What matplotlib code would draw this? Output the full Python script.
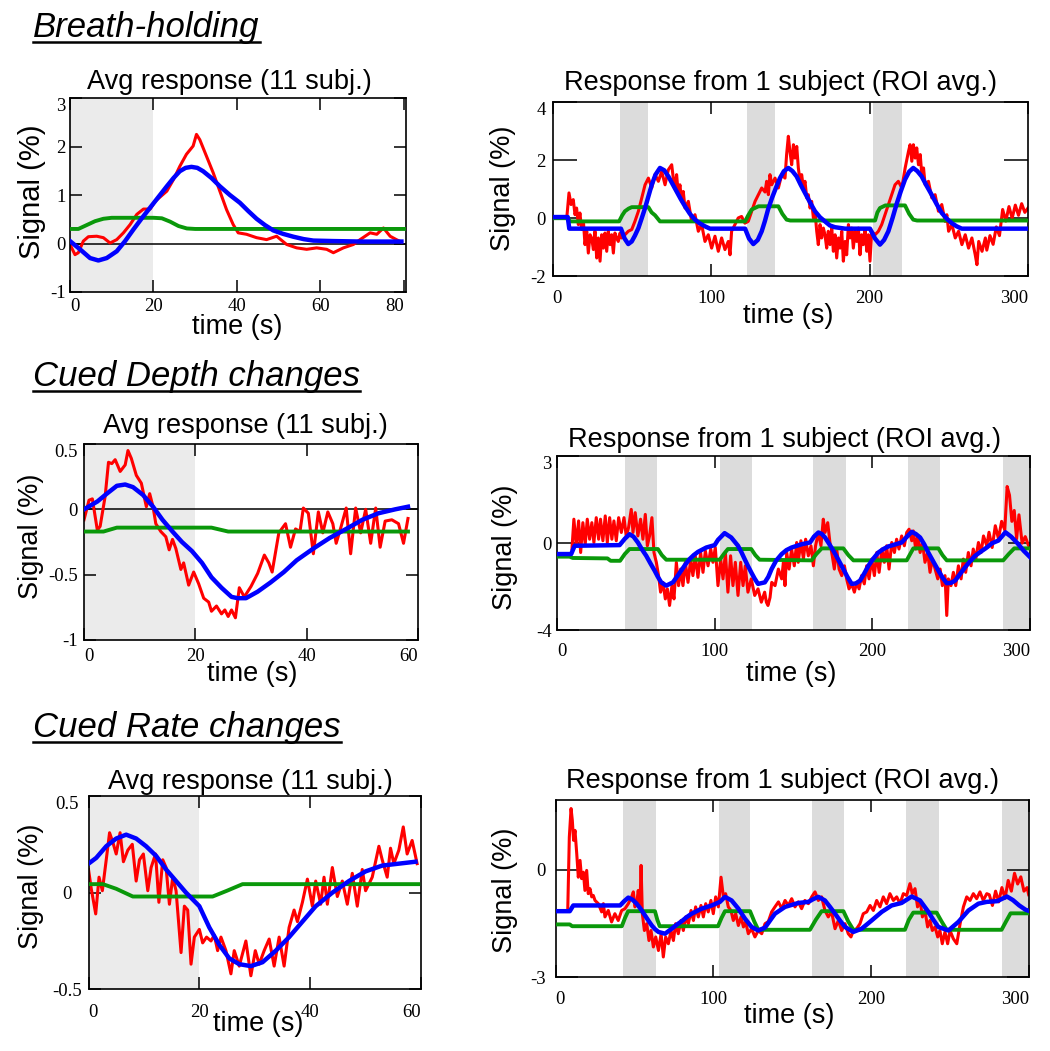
import matplotlib
matplotlib.use('Agg')
import matplotlib.pyplot as plt
from matplotlib.lines import Line2D

W, H = 1050, 1051
SANS = 'Liberation Sans'
SERIF = 'Liberation Serif'
RED, BLUE, GREEN = '#ff0000', '#0000ff', '#0a980a'
SHADE_AVG, SHADE_SUBJ = '#ebebeb', '#dcdcdc'

# ---------------- text ----------------
headings = ['Breath-holding', 'Cued Depth changes', 'Cued Rate changes']
avg_title = 'Avg response (11 subj.)'
subj_title = 'Response from 1 subject (ROI avg.)'
ylabel_text = 'Signal (%)'
xlabel_text = 'time (s)'

# ---------------- Panel 1: breath-holding, average ----------------
p1_ticks_x = [0, 20, 40, 60, 80]
p1_ticks_y = [-1, 0, 1, 2, 3]
p1_shade = [(0, 20)]
p1_red = [(0, -0.02), (1.2, -0.23), (2.0, -0.19), (3.2, 0.05), (4.4, 0.14), (6.4, 0.15), (8.0, 0.12),
          (9.6, 0.01), (11.2, 0.08), (12.8, 0.22), (14.4, 0.39), (16.0, 0.60), (17.6, 0.71), (19.2, 0.71),
          (20.4, 0.87), (21.6, 0.96), (23.2, 1.08), (24.8, 1.32), (26.3, 1.59), (27.9, 1.84), (29.5, 2.01),
          (30.3, 2.25), (31.1, 2.14), (32.7, 1.80), (34.3, 1.46), (35.9, 1.08), (37.5, 0.70), (39.1, 0.39),
          (40.3, 0.22), (42.3, 0.19), (44.7, 0.12), (47.1, 0.08), (49.5, 0.15), (51.9, -0.02), (54.3, -0.09),
          (56.7, -0.12), (59.1, -0.09), (61.5, -0.12), (63.1, -0.19), (65.5, -0.09), (67.9, -0.02),
          (69.5, 0.08), (71.9, 0.22), (73.5, 0.19), (75.1, 0.32), (76.7, 0.15), (78.2, 0.08), (79.4, 0.03)]
p1_blue = [(0, 0.05), (2.4, -0.12), (4.8, -0.30), (6.8, -0.35), (8.8, -0.30), (11.2, -0.16), (13.2, 0.05),
           (15.2, 0.29), (17.2, 0.52), (19.2, 0.74), (21.2, 0.96), (23.2, 1.18), (24.8, 1.35), (26.3, 1.49),
           (27.7, 1.56), (29.1, 1.58), (30.5, 1.56), (31.9, 1.49), (33.9, 1.35), (35.9, 1.18), (38.3, 1.0),
           (40.7, 0.84), (42.7, 0.67), (44.7, 0.51), (46.7, 0.38), (48.7, 0.27), (51.0, 0.20), (53.5, 0.14),
           (56.0, 0.09), (58.3, 0.06), (63.1, 0.05), (70, 0.04), (79.4, 0.04)]
p1_green = [(0, 0.30), (2, 0.30), (4, 0.38), (6, 0.46), (8, 0.51), (10, 0.53), (20, 0.53), (22, 0.52),
            (24, 0.45), (26, 0.36), (28, 0.31), (30, 0.30), (80, 0.30)]

# ---------------- Panel 2: breath-holding, one subject ----------------
p2_ticks_x = [0, 100, 200, 300]
p2_ticks_y = [-2, 0, 2, 4]
p2_shade = [(42.5, 60.5), (122.5, 140.5), (202.5, 220.5)]
p2_red = [(9.0, 0.01), (10.4, 0.87), (11.7, 0.47), (13.1, 0.64), (14.2, 0.12), (15.2, 0.35), (16.3, -0.22),
          (17.3, 0.18), (18.4, -0.39), (19.5, -0.11), (20.5, -0.91), (21.6, -0.45), (22.6, -1.20),
          (23.7, -0.57), (24.7, -0.68), (25.8, -1.08), (26.8, -0.45), (27.9, -1.37), (28.9, -0.68),
          (30.0, -1.48), (31.0, -0.57), (32.1, -1.03), (33.1, -0.51), (34.2, -1.14), (35.2, -0.45),
          (36.3, -0.91), (37.3, -0.57), (38.4, -1.20), (39.4, -0.51), (40.5, -0.68), (41.5, -0.80),
          (42.6, -0.51), (43.6, -0.68), (45.7, -0.57), (47.8, -0.45), (50.0, -0.39), (52.0, -0.11),
          (54.2, 0.24), (56.3, 0.70), (58.4, 1.15), (60.5, 1.38), (62.6, 1.04), (64.7, 1.50), (66.8, 1.27),
          (68.9, 1.61), (71.0, 1.15), (73.1, 1.67), (75.2, 1.84), (76.2, 1.38), (77.3, 1.04), (78.3, 1.50),
          (79.4, 0.81), (80.4, 1.15), (81.5, 0.58), (82.5, 0.92), (83.6, 0.35), (85.7, 0.58), (87.8, -0.11),
          (89.9, 0.12), (92.0, -0.45), (94.1, -0.22), (96.2, -0.80), (98.3, -0.57), (100.4, -1.03),
          (102.5, -0.62), (104.6, -1.14), (106.7, -0.68), (108.8, -1.08), (110.9, -0.80), (112.0, -1.26),
          (113.0, -0.45), (115.1, -0.22), (117.2, 0.01), (119.3, 0.06), (121.4, -0.17), (123.5, -0.11),
          (125.7, 0.24), (127.8, 0.58), (129.9, 0.81), (132.0, 1.04), (134.1, 0.90), (135.1, 1.27),
          (136.2, 0.81), (137.2, 1.50), (138.3, 1.15), (140.4, 1.38), (142.5, 1.04), (144.6, 1.50),
          (146.7, 1.38), (147.7, 2.19), (148.8, 2.82), (149.8, 2.30), (150.9, 1.84), (152.0, 2.53),
          (153.0, 2.07), (154.1, 2.47), (155.1, 1.73), (156.2, 1.27), (157.2, 1.50), (158.3, 1.04),
          (159.3, 1.27), (160.4, 0.70), (161.4, 0.81), (162.5, 0.35), (163.5, 0.58), (164.6, 0.01),
          (165.6, 0.24), (166.7, -0.45), (167.7, -0.91), (168.8, -0.22), (169.8, -0.68), (170.9, -0.34),
          (171.9, -0.57), (173.0, -1.03), (174.0, -0.45), (175.1, -0.91), (176.2, -0.34), (177.2, -1.14),
          (178.3, -0.57), (179.3, -1.37), (180.4, -0.68), (181.4, -1.03), (182.5, -0.45), (183.5, -1.48),
          (184.6, -0.80), (185.6, -1.26), (186.7, -0.22), (187.7, -0.68), (188.8, -0.34), (189.8, -1.03),
          (190.9, -0.45), (191.9, -0.80), (193.0, -0.34), (194.0, -1.26), (195.1, -0.57), (196.1, -0.91),
          (197.2, -0.39), (198.3, -1.14), (199.3, -0.57), (200.3, -1.48), (201.4, -0.45), (203.5, -0.57),
          (205.6, -0.45), (207.7, -0.22), (209.8, 0.12), (211.9, 0.47), (214.0, 0.81), (216.1, 1.15),
          (218.2, 1.27), (220.4, 1.04), (222.5, 1.73), (224.6, 2.30), (225.6, 2.53), (226.7, 1.96),
          (227.7, 2.53), (228.8, 2.07), (229.8, 2.42), (230.9, 1.84), (232.0, 2.19), (233.0, 1.50),
          (234.1, 1.73), (235.1, 1.15), (237.2, 1.27), (239.3, 0.70), (241.4, 0.81), (243.5, 0.24),
          (245.6, 0.47), (247.7, -0.11), (248.8, 0.12), (249.9, -0.45), (252.0, -0.22), (254.1, -0.68),
          (256.2, -0.45), (258.3, -0.91), (260.4, -0.57), (262.5, -1.03), (264.6, -0.68), (266.7, -1.26),
          (267.8, -1.60), (268.9, -0.80), (271.0, -1.14), (273.1, -0.68), (274, -1.1), (276, -0.6),
          (278, -0.9), (280, -0.3), (282, -0.6), (284, 0.3), (286, -0.1), (288, 0.4), (290, 0.0),
          (292, 0.45), (294, 0.1), (296, 0.5), (298, 0.2), (300, 0.35)]
p2_blue = [(0, 0.04), (9.6, 0.04), (10.6, -0.36), (43.2, -0.36), (45.5, -0.70), (47.8, -0.89), (50, -0.80),
           (52, -0.60), (54.2, -0.34), (56.3, 0.0), (58.4, 0.35), (60.5, 0.75), (62.6, 1.15), (65, 1.50),
           (67.8, 1.73), (70.5, 1.65), (73.1, 1.44), (75.7, 1.18), (78.3, 0.92), (80.9, 0.66), (83.6, 0.41),
           (86.7, 0.15), (89.9, -0.05), (93, -0.18), (96.2, -0.28), (99.4, -0.36), (121.5, -0.36),
           (124, -0.70), (126.7, -0.89), (129.5, -0.75), (132, -0.45), (134, -0.10), (136, 0.30),
           (138.5, 0.70), (141, 1.05), (143.5, 1.38), (146, 1.62), (148.8, 1.73), (151.4, 1.62),
           (154, 1.44), (156.6, 1.15), (159.3, 0.87), (162.4, 0.55), (165.6, 0.24), (168.8, 0.03),
           (171.9, -0.11), (175, -0.25), (178.2, -0.31), (184.6, -0.36), (200.3, -0.36), (203.5, -0.70),
           (206.6, -0.91), (209.2, -0.75), (211.9, -0.45), (214.5, 0.0), (217, 0.47), (219.7, 0.92),
           (222.4, 1.33), (225, 1.60), (227.6, 1.73), (230.2, 1.62), (232.9, 1.44), (236, 1.12),
           (239.2, 0.81), (242.4, 0.48), (245.6, 0.18), (248.8, -0.02), (251.9, -0.17), (255, -0.28),
           (258.2, -0.36), (300, -0.36)]
p2_green = [(0, 0.0), (10, 0.0), (11, -0.11), (42, -0.11), (44, 0.10), (45.7, 0.24), (48, 0.33), (50, 0.38),
            (60.5, 0.38), (62.5, 0.20), (64.7, 0.10), (67.8, -0.11), (121.5, -0.11), (123.5, 0.10),
            (125.7, 0.30), (130, 0.41), (142.5, 0.41), (145, 0.15), (147.7, -0.05), (150, -0.08),
            (203.5, -0.08), (205, 0.20), (206.6, 0.35), (210, 0.44), (222.4, 0.44), (225, 0.15),
            (227.6, -0.05), (230, -0.08), (300, -0.08)]

# ---------------- Panel 3: cued depth, average ----------------
p3_ticks_x = [0, 20, 40, 60]
p3_ticks_y = [-1, -0.5, 0, 0.5]
p3_shade = [(0, 20)]
p3_red = [(0, -0.08), (0.9, 0.07), (1.5, 0.08), (2.4, -0.16), (2.9, -0.13), (3.8, 0.10), (4.4, 0.36),
          (5.0, 0.35), (5.6, 0.38), (6.5, 0.29), (7.4, 0.34), (7.9, 0.45), (8.5, 0.39), (9.4, 0.26),
          (10.3, 0.20), (11.2, 0.02), (11.8, 0.12), (12.4, 0.02), (12.9, -0.11), (13.8, -0.17), (14.7, -0.21),
          (15.3, -0.31), (15.9, -0.23), (16.5, -0.30), (17.4, -0.46), (17.9, -0.41), (18.8, -0.58),
          (19.7, -0.48), (20.6, -0.57), (21.5, -0.68), (22.4, -0.71), (22.9, -0.78), (23.8, -0.74),
          (24.7, -0.80), (25.3, -0.77), (25.9, -0.82), (26.5, -0.77), (27.2, -0.83), (27.9, -0.60),
          (28.8, -0.67), (30.0, -0.59), (31.2, -0.49), (32.4, -0.35), (33.2, -0.41), (33.8, -0.48),
          (35.0, -0.18), (36.2, -0.11), (37.1, -0.29), (38.0, -0.15), (38.8, -0.17), (39.4, 0.01),
          (40.3, -0.03), (41.2, -0.34), (42.1, -0.02), (42.9, -0.18), (43.8, -0.02), (44.7, -0.11),
          (45.3, -0.26), (46.2, -0.13), (47.1, 0.01), (47.9, -0.34), (48.8, 0.01), (49.7, -0.18),
          (50.6, 0.0), (51.5, -0.26), (52.4, 0.01), (53.2, -0.29), (54.1, -0.09), (55.3, -0.08),
          (56.5, -0.11), (57.4, -0.26), (58.2, -0.07)]
p3_blue = [(0, 0.0), (2.4, 0.06), (4.1, 0.12), (5.9, 0.18), (7.4, 0.19), (8.8, 0.17), (10.6, 0.11),
           (12.4, 0.02), (14.1, -0.08), (15.9, -0.17), (17.6, -0.25), (19.4, -0.32), (21.2, -0.41),
           (22.9, -0.52), (24.7, -0.60), (26.5, -0.67), (27.6, -0.68), (29.1, -0.68), (31.2, -0.63),
           (33.5, -0.56), (35.9, -0.48), (38.2, -0.39), (41.2, -0.30), (44.1, -0.22), (47.1, -0.15),
           (50.0, -0.08), (52.9, -0.03), (55.9, 0.0), (58.2, 0.02)]
p3_green = [(0, -0.17), (3.5, -0.17), (5.9, -0.14), (22.9, -0.14), (25.9, -0.17), (58.2, -0.17)]

# ---------------- Panel 4: cued depth, one subject ----------------
p4_ticks_x = [0, 100, 200, 300]
p4_ticks_y = [-4, 0, 4]
p4_tick_labels_y = ['-4', '0', '3']
p4_shade = [(43, 63.5), (103.5, 123.5), (162.5, 183), (222.5, 243), (283, 303)]
p4_red = [(9.5, -0.27), (10.7, 1.10), (12.2, -0.12), (13.7, 1.02), (15.0, -0.43), (16.4, 0.94),
          (17.9, -0.05), (19.2, 1.10), (20.7, 0.18), (22.1, 0.94), (23.4, 0.03), (24.9, 1.17), (26.4, 0.18),
          (27.6, 1.10), (29.1, 0.11), (30.6, 1.25), (31.9, 0.03), (33.4, 1.17), (34.8, 0.18), (36.1, 1.02),
          (37.6, 0.11), (39.1, 1.17), (40.8, 0.49), (42.5, 1.17), (43.9, 0.33), (45.4, 0.72), (47.1, 1.55),
          (48.2, 0.49), (49.6, 1.40), (51.3, 0.33), (53.0, 1.10), (54.5, 0.18), (56.0, 1.32), (57.3, -0.12),
          (58.7, 0.33), (60.2, 1.17), (61.5, -0.43), (63.0, -0.88), (64.4, -1.49), (65.7, -2.25),
          (67.2, -1.80), (68.7, -2.56), (70.0, -2.10), (71.4, -2.86), (72.9, -1.95), (74.2, -2.56),
          (75.7, -0.88), (77.1, -1.95), (78.4, -1.19), (79.9, -1.95), (81.4, -0.88), (83.1, -1.80),
          (84.8, -0.73), (86.2, -1.49), (87.7, -0.58), (89.4, -1.57), (91.1, -0.43), (92.6, -1.34),
          (94.1, -0.35), (95.8, -1.04), (97.5, -0.27), (98.9, -0.88), (100.4, -0.20), (102.1, -1.95),
          (103.8, -0.73), (105.3, -1.64), (106.8, -0.43), (108.4, -2.25), (110.1, -0.58), (111.6, -1.95),
          (113.1, -0.88), (114.8, -2.40), (116.5, -0.88), (118.0, -1.95), (119.4, -1.04), (121.1, -2.25),
          (123.2, -1.64), (125.4, -2.40), (127.5, -2.10), (129.6, -2.71), (131.7, -2.25), (132.8, -2.71),
          (133.8, -2.86), (135.1, -2.50), (136.2, -1.80), (138.3, -1.95), (140.4, -1.19), (142.5, -1.64),
          (143.6, -0.88), (144.6, -1.95), (145.7, -0.43), (147.2, -1.19), (148.8, -0.27), (150.5, -1.04),
          (152.0, 0.03), (153.0, -0.88), (154.7, 0.11), (156.3, -0.73), (157.7, 0.18), (159.4, -0.58),
          (161.1, -0.12), (162.6, -1.04), (164.0, -0.12), (165.8, 0.49), (167.4, -0.12), (168.9, 1.10),
          (170.0, 0.49), (171.7, 0.94), (173.1, 0.03), (174.6, -0.58), (175.9, -1.19), (177.4, -0.27),
          (178.9, -1.19), (180.6, -1.49), (182.3, -1.04), (183.7, -1.64), (185.2, -2.10), (186.9, -1.87),
          (188.6, -2.25), (190.1, -1.80), (191.6, -2.10), (193.2, -1.49), (194.9, -1.87), (196.4, -1.04),
          (197.9, -1.64), (199.6, -0.73), (201.3, -1.49), (202.8, -0.43), (204.3, -1.34), (206.0, -0.27),
          (207.6, -0.88), (209.1, -0.12), (210.6, -1.19), (212.3, 0.03), (214.0, -0.43), (215.4, 0.18),
          (216.9, -0.27), (218.6, 0.33), (220.3, -0.12), (221.8, 0.49), (223.3, 0.64), (225.0, 0.11),
          (226.0, 0.56), (227.5, -0.27), (228.8, 0.33), (230.3, -0.43), (231.8, 0.03), (233.4, -0.88),
          (235.1, -0.43), (236.6, -1.34), (238.1, -0.73), (239.8, -1.19), (241.5, -1.64), (243.0, -1.19),
          (244.4, -1.95), (246.1, -1.49), (247.2, -3.32), (248.2, -1.64), (249.9, -1.95), (251.4, -1.34),
          (252.9, -1.95), (254.6, -1.04), (256.3, -1.64), (257.7, -0.73), (259.2, -1.34), (260.9, -0.43),
          (262.6, -1.04), (264.0, -0.27), (265.6, -0.73), (267.3, 0.03), (269.0, -0.43), (270.5, 0.33),
          (272.6, -0.12), (274, 0.5), (276, -0.2), (278, 0.8), (280, 0.2), (282, 1.0), (284, 0.6),
          (285.5, 2.6), (287, 2.2), (288.5, 1.0), (290, 1.5), (291.5, 0.2), (293, 1.3), (295, 0.0),
          (297, 0.3), (299, -0.1), (300, -0.2)]
p4_blue = [(0, -0.50), (9, -0.50), (11.2, -0.12), (39.7, -0.09), (43, 0.20), (46, 0.41), (48.5, 0.30),
           (51.3, 0.03), (54, -0.30), (56.6, -0.58), (59.2, -0.92), (61.9, -1.26), (64, -1.55), (66.1, -1.80),
           (69.3, -1.95), (73.5, -1.80), (76, -1.55), (78.8, -1.26), (81.4, -0.98), (84.1, -0.73),
           (86.7, -0.55), (89.4, -0.40), (94.7, -0.20), (100, -0.09), (102.1, 0.15), (106.3, 0.46),
           (110.5, 0.26), (114.8, -0.12), (117, -0.42), (119, -0.73), (121, -1.03), (123.2, -1.34),
           (125.3, -1.62), (127.5, -1.87), (131.8, -1.80), (134, -1.55), (136.1, -1.19), (139, -0.80),
           (142.5, -0.50), (145.5, -0.32), (148.8, -0.20), (155.2, -0.05), (160.5, 0.03), (163, 0.30),
           (165.8, 0.49), (168, 0.42), (170, 0.26), (172.5, -0.02), (175.3, -0.35), (178.5, -0.77),
           (181.6, -1.19), (184.2, -1.55), (186.9, -1.87), (189.5, -1.85), (192.2, -1.72), (194.8, -1.40),
           (197.5, -1.04), (200.5, -0.72), (203.8, -0.43), (207, -0.27), (210.2, -0.15), (218.6, 0.03),
           (222, 0.30), (225, 0.52), (227.6, 0.42), (230.3, 0.26), (232.9, -0.05), (235.5, -0.43),
           (238.7, -0.85), (241.9, -1.26), (244.5, -1.58), (247.2, -1.84), (250, -1.82), (252.5, -1.72),
           (255.6, -1.42), (258.8, -1.11), (262, -0.83), (265.2, -0.58), (269, -0.38), (272.6, -0.20),
           (276, 0.0), (280, 0.12), (284.4, 0.50), (288, 0.30), (292, 0.0), (296, -0.35), (300, -0.64)]
p4_green = [(0, -0.62), (8, -0.62), (10, -0.68), (32, -0.70), (34, -0.81), (40, -0.81), (43, -0.50),
            (46, -0.27), (64, -0.27), (66.5, -0.55), (69.3, -0.76), (103.2, -0.76), (105.8, -0.50),
            (108.4, -0.27), (123.2, -0.27), (125.8, -0.55), (128.5, -0.76), (161.5, -0.79), (164.5, -0.50),
            (167.9, -0.24), (181.6, -0.24), (184.8, -0.55), (188, -0.79), (221.8, -0.79), (224, -0.50),
            (226, -0.24), (241.9, -0.24), (244.5, -0.55), (247.2, -0.79), (283, -0.79), (286.5, -0.50),
            (290, -0.24), (300, -0.24)]

# ---------------- Panel 5: cued rate, average ----------------
p5_ticks_x = [0, 20, 40, 60]
p5_ticks_y = [-0.5, 0, 0.5]
p5_shade = [(0, 20)]
p5_red = [(0, 0.12), (0.5, 0.02), (1.3, -0.11), (1.9, 0.08), (2.5, 0.01), (3.2, 0.17), (3.8, 0.31),
          (4.4, 0.26), (5.0, 0.20), (5.7, 0.31), (6.3, 0.16), (7.1, 0.22), (7.9, 0.25), (8.6, 0.06),
          (9.2, 0.17), (9.9, 0.20), (10.7, 0.01), (11.3, 0.13), (12.1, 0.20), (12.7, -0.05), (13.4, 0.17),
          (14.0, 0.13), (14.6, -0.06), (15.2, 0.08), (15.8, 0.01), (16.7, -0.31), (17.3, -0.07), (17.9, -0.09),
          (18.5, -0.37), (19.1, -0.23), (20.0, -0.19), (20.6, -0.26), (21.3, -0.23), (22.1, -0.25),
          (22.7, -0.22), (23.3, -0.30), (23.9, -0.23), (24.8, -0.30), (25.7, -0.42), (26.3, -0.30),
          (27.2, -0.38), (28.4, -0.25), (29.3, -0.43), (30.1, -0.30), (30.8, -0.37), (31.7, -0.30),
          (32.6, -0.24), (33.5, -0.38), (34.4, -0.23), (35.3, -0.38), (36.2, -0.18), (37.1, -0.09),
          (37.7, -0.15), (38.6, -0.05), (39.5, 0.07), (40.4, -0.07), (41.0, 0.06), (41.9, -0.06),
          (42.5, 0.08), (43.1, -0.06), (44.0, 0.13), (44.9, -0.02), (45.8, 0.06), (46.7, -0.06),
          (47.6, 0.10), (48.5, -0.07), (49.4, 0.12), (50.0, 0.01), (51.2, 0.08), (52.4, 0.24), (53.0, 0.17),
          (53.9, 0.08), (54.5, 0.23), (55.1, 0.15), (56.0, 0.22), (56.8, 0.34), (57.5, 0.20), (58.4, 0.27),
          (59.3, 0.15)]
p5_blue = [(0, 0.15), (1.4, 0.18), (3.2, 0.24), (5, 0.28), (6.8, 0.30), (8.6, 0.28), (10.4, 0.24),
           (12.2, 0.19), (14, 0.12), (15.8, 0.06), (17.6, 0.0), (20, -0.07), (21.8, -0.18), (23.6, -0.27),
           (25.4, -0.34), (27.2, -0.37), (29.3, -0.38), (31.4, -0.36), (33.8, -0.30), (36.2, -0.23),
           (38.6, -0.15), (41, -0.07), (44, 0.0), (47, 0.06), (50, 0.11), (53, 0.14), (56, 0.15), (59, 0.16)]
p5_green = [(0, 0.044), (2.6, 0.044), (5, 0.02), (8, -0.02), (22.4, -0.02), (25, 0.01), (27.8, 0.044),
            (59.5, 0.044)]

# ---------------- Panel 6: cued rate, one subject ----------------
p6_ticks_x = [0, 100, 200, 300]
p6_ticks_y = [-3, 0]
p6_shade = [(43, 63.5), (103.5, 123.5), (162.5, 183), (222.5, 243), (283, 303)]
p6_red = [(7.7, -1.14), (8.7, 0.91), (9.8, 1.71), (10.6, 1.38), (11.4, 0.82), (12.3, 1.10), (13.4, 0.45),
          (14.4, -0.21), (15.5, 0.26), (16.5, -0.25), (17.6, -0.07), (18.6, -0.58), (19.7, -0.02),
          (20.7, -0.67), (21.8, -0.53), (22.9, -0.76), (23.9, -0.72), (25.0, -0.86), (27.1, -0.95),
          (29.2, -1.18), (30.3, -0.95), (31.3, -1.32), (33.4, -1.14), (35.5, -1.46), (37.6, -1.23),
          (39.7, -1.42), (41.9, -1.14), (44.0, -1.09), (46.1, -0.95), (48.2, -0.76), (49.3, -0.62),
          (50.3, -1.04), (51.4, -0.95), (52.4, -0.58), (53.5, -1.04), (54.2, 0.12), (55.0, -1.23),
          (56.3, -1.70), (57.8, -1.51), (59.2, -1.98), (60.5, -1.70), (62.0, -2.16), (63.5, -1.88),
          (65.2, -2.26), (66.9, -1.79), (68.3, -2.44), (69.8, -1.88), (71.5, -2.07), (73.2, -1.70),
          (74.7, -1.98), (76.1, -1.51), (77.8, -1.79), (79.5, -1.42), (81.0, -1.70), (82.5, -1.32),
          (84.2, -1.51), (85.9, -1.14), (87.4, -1.42), (88.8, -1.04), (90.5, -1.32), (92.2, -1.00),
          (93.7, -1.32), (95.2, -0.95), (96.8, -1.18), (98.5, -0.86), (100.0, -1.23), (101.5, -0.76),
          (103.2, -1.04), (104.9, -0.21), (106.4, -0.76), (107.8, -0.67), (109.5, -1.04), (111.2, -1.14),
          (112.7, -1.42), (114.2, -1.23), (115.9, -1.56), (117.6, -1.32), (119.1, -1.60), (120.5, -1.46),
          (122.2, -1.79), (124.3, -1.65), (126.4, -1.88), (128.5, -1.70), (130.7, -1.79), (132.8, -1.51),
          (134.9, -1.45), (137.0, -1.18), (139.1, -1.04), (141.3, -0.90), (143.4, -1.09), (145.5, -0.86),
          (147.6, -1.0), (149.7, -0.81), (151.8, -1.04), (153.9, -0.90), (156.0, -1.09), (158.1, -0.86),
          (160.3, -0.95), (162.4, -0.76), (164.5, -0.62), (166.6, -0.86), (168.7, -0.76), (170.8, -1.14),
          (172.9, -1.32), (175.0, -1.18), (177.2, -1.65), (179.3, -1.42), (181.4, -1.70), (183.5, -1.51),
          (185.6, -1.79), (187.3, -1.88), (188.8, -1.70), (190.9, -1.65), (193.0, -1.51), (195.1, -1.23),
          (197.3, -1.18), (199.4, -1.0), (201.5, -1.14), (203.6, -0.86), (205.7, -1.04), (207.8, -0.76),
          (209.9, -0.95), (212.0, -0.67), (214.2, -0.86), (216.3, -0.76), (218.4, -0.95), (220.5, -0.67),
          (222.6, -0.72), (224.7, -0.39), (226.2, -0.67), (227.9, -0.53), (229.5, -1.04), (231.1, -0.86),
          (232.6, -1.32), (234.2, -1.14), (235.9, -1.60), (237.4, -1.42), (238.9, -1.70), (240.6, -1.60),
          (242.3, -1.88), (243.7, -1.70), (245.2, -2.07), (246.9, -1.74), (248.6, -2.07), (250.1, -1.70),
          (252.2, -1.93), (254.4, -2.07), (256.5, -1.51), (258.6, -1.04), (260.7, -0.76), (262.8, -0.86),
          (264.9, -0.67), (267.0, -0.81), (269.1, -0.62), (271.2, -0.86), (273.4, -0.67), (275, -0.7),
          (277, -1.0), (279, -0.6), (281, -0.9), (283, -0.5), (285, -0.8), (287, -0.3), (289, -0.6),
          (291, -0.1), (293, -0.4), (295, -0.2), (297, -0.6), (299, -0.5), (300, -0.7)]
p6_blue = [(0, -1.16), (9, -1.16), (11.2, -1.0), (40.9, -1.0), (43.5, -0.88), (46.1, -0.78), (48.8, -0.84),
           (51.4, -0.95), (54, -1.10), (56.7, -1.28), (58.8, -1.42), (61, -1.56), (63, -1.66), (65.2, -1.74),
           (69.4, -1.79), (73.6, -1.65), (76.8, -1.54), (80, -1.44), (83, -1.33), (86.3, -1.23),
           (92.6, -1.09), (99, -1.0), (104.2, -0.90), (107.4, -0.76), (111.6, -0.86), (115.9, -1.09),
           (120.1, -1.37), (124.3, -1.60), (128.5, -1.70), (132.8, -1.62), (136, -1.42), (139.1, -1.23),
           (145.5, -1.04), (153.9, -0.93), (160.3, -0.90), (163.5, -0.82), (166.6, -0.76), (170.8, -0.86),
           (174, -1.04), (177.2, -1.23), (180.3, -1.42), (183.5, -1.60), (188.8, -1.74), (194.1, -1.65),
           (200.4, -1.42), (206.8, -1.18), (213.1, -1.0), (219.4, -0.93), (222.6, -0.84), (225.8, -0.75),
           (231.1, -0.86), (236.4, -1.18), (239.5, -1.40), (242.7, -1.60), (249.1, -1.70), (255.4, -1.46),
           (261.8, -1.14), (268.1, -0.95), (273.4, -0.90), (280, -0.88), (286.2, -0.75), (290, -0.85),
           (294, -1.0), (298, -1.12), (300, -1.15)]
p6_green = [(0, -1.53), (9, -1.53), (10.5, -1.58), (42, -1.58), (44, -1.35), (46, -1.16), (63, -1.16),
            (64.5, -1.40), (66, -1.58), (103, -1.58), (105.2, -1.35), (107.4, -1.16), (123.3, -1.16),
            (126, -1.45), (128.5, -1.68), (161.3, -1.68), (165, -1.40), (168.7, -1.16), (182.5, -1.16),
            (185.6, -1.45), (188.8, -1.68), (221.5, -1.68), (224, -1.40), (226.8, -1.20), (241.6, -1.20),
            (244.8, -1.45), (248, -1.68), (282.8, -1.68), (285.6, -1.45), (288.5, -1.22), (300, -1.22)]


# ---------------- layout helpers ----------------
def fx(px):
    return px / W


def fy(py):
    return 1 - py / H


TICK_FS = 13.5


def make_axes(fig, box, xlim, ylim, xt, yt, ytl, xlen, ylen, xpad, ypad, yha='right'):
    l, t, r, b = box
    ax = fig.add_axes([fx(l), fy(b), (r - l) / W, (b - t) / H])
    ax.set_xlim(*xlim)
    ax.set_ylim(*ylim)
    ax.set_xticks(xt)
    ax.set_xticklabels([str(v) for v in xt], fontfamily=SERIF, fontsize=TICK_FS)
    ax.set_yticks(yt)
    ax.set_yticklabels(ytl, fontfamily=SERIF, fontsize=TICK_FS)
    ax.tick_params(axis='x', direction='in', top=True, bottom=True, length=xlen, width=1.1, pad=xpad)
    ax.tick_params(axis='y', direction='in', left=True, right=True, length=ylen, width=1.1, pad=ypad)
    for s in ax.spines.values():
        s.set_linewidth(1.2)
    xl = ax.get_xticklabels()
    xl[0].set_ha('left')
    xl[-1].set_ha('right')
    for lab in ax.get_yticklabels():
        lab.set_ha(yha)
    if yt[-1] >= ylim[1] - 1e-9:
        ax.get_yticklabels()[-1].set_va('top')
    return ax


def draw_series(ax, shade, shade_color, red, green, blue, zero_line=False, rw=2.2, bw=3.2, gw=2.8):
    for a, b in shade:
        ax.axvspan(a, b, color=shade_color, lw=0, zorder=0)
    if zero_line:
        ax.axhline(0, color='black', lw=1.1, zorder=1)
    ax.plot([p[0] for p in red], [p[1] for p in red], color=RED, lw=rw, zorder=2,
            solid_joinstyle='round')
    ax.plot([p[0] for p in green], [p[1] for p in green], color=GREEN, lw=gw, zorder=3)
    ax.plot([p[0] for p in blue], [p[1] for p in blue], color=BLUE, lw=bw, zorder=4)


fig = plt.figure(figsize=(W / 100, H / 100), dpi=100)

# panel 1
ax1 = make_axes(fig, (70, 98, 406, 292), (0, 80.5), (-1, 3), p1_ticks_x, p1_ticks_y,
                [str(v) for v in p1_ticks_y], 8.3, 8.3, 4.5, 3)
draw_series(ax1, p1_shade, SHADE_AVG, p1_red, p1_green, p1_blue, zero_line=True)

# panel 2
ax2 = make_axes(fig, (552.5, 102, 1028, 276.3), (0, 300), (-2, 4), p2_ticks_x, p2_ticks_y,
                [str(v) for v in p2_ticks_y], 8.6, 17, 10, 4.7)
draw_series(ax2, p2_shade, SHADE_SUBJ, p2_red, p2_green, p2_blue)

# panel 3
ax3 = make_axes(fig, (84, 444, 418, 640), (0, 59), (-1, 0.5), p3_ticks_x, p3_ticks_y,
                ['-1', '-0.5', '0', '0.5'], 8.3, 8.3, 6, 4.3)
draw_series(ax3, p3_shade, SHADE_AVG, p3_red, p3_green, p3_blue, zero_line=True)

# panel 4
ax4 = make_axes(fig, (557, 456, 1030, 630.3), (0, 300), (-4, 4), p4_ticks_x, p4_ticks_y,
                p4_tick_labels_y, 8.6, 16, 9.5, 4)
draw_series(ax4, p4_shade, SHADE_SUBJ, p4_red, p4_green, p4_blue)

# panel 5
ax5 = make_axes(fig, (88.5, 796, 421, 989.3), (0, 59.9), (-0.5, 0.5), p5_ticks_x, p5_ticks_y,
                ['-0.5', '0', '0.5'], 8.3, 8.3, 10.3, 15.5, yha='center')
draw_series(ax5, p5_shade, SHADE_AVG, p5_red, p5_green, p5_blue)

# panel 6
ax6 = make_axes(fig, (555.6, 800.3, 1028.7, 977), (0, 300), (-3, 1.94), p6_ticks_x, p6_ticks_y,
                ['-3', '0'], 8.6, 16, 10.3, 7)
draw_series(ax6, p6_shade, SHADE_SUBJ, p6_red, p6_green, p6_blue)

# titles
for (x, y) in [(229, 89), (245, 433), (250, 789)]:
    fig.text(fx(x), fy(y), avg_title, ha='center', va='baseline', fontsize=19.5, fontfamily=SANS)
for (x, y) in [(781, 90), (784, 446.7), (783, 788)]:
    fig.text(fx(x), fy(y), subj_title, ha='center', va='baseline', fontsize=19.5, fontfamily=SANS)

# y labels
for (x, y), fs in zip([(32.5, 192), (503, 188), (31, 536), (505, 547), (31.5, 886), (504.5, 890)],
                      [21, 19.5, 19.5, 19.5, 19.5, 19.5]):
    fig.text(fx(x), fy(y), ylabel_text, rotation=90, ha='center', va='center', fontsize=fs,
             fontfamily=SANS)

# x labels
for (x, y) in [(237, 327), (788, 316), (252.5, 674), (791.5, 674), (258, 1024), (789.5, 1016)]:
    fig.text(fx(x), fy(y), xlabel_text, ha='center', va='center', fontsize=19.5, fontfamily=SANS)

# headings (italic, underlined)
head_base = [37, 386, 737]
head_texts = []
for s, yb in zip(headings, head_base):
    head_texts.append(fig.text(fx(33), fy(yb), s, ha='left', va='baseline', fontsize=25,
                               style='italic', fontfamily=SANS))
fig.canvas.draw()
rend = fig.canvas.get_renderer()
for t, yb in zip(head_texts, head_base):
    bb = t.get_window_extent(rend)
    fig.add_artist(Line2D([bb.x0 / W, bb.x1 / W], [fy(yb + 4.5), fy(yb + 4.5)],
                          transform=fig.transFigure, color='black', lw=1.8))

fig.savefig('out.png', dpi=100)
